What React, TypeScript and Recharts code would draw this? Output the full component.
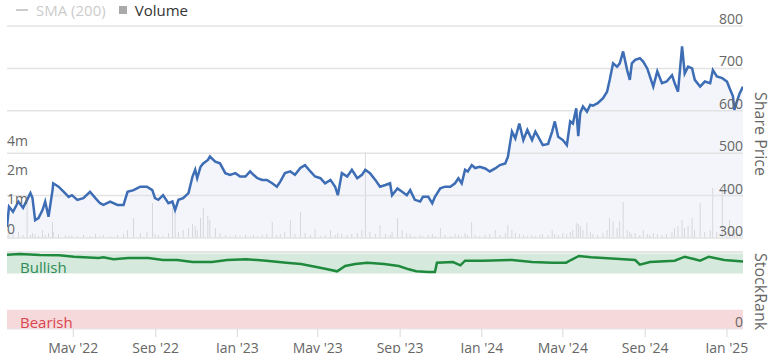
import React from 'react';
import {
  ComposedChart, Line, Area, Bar, XAxis, YAxis, ReferenceLine, ReferenceArea,
} from 'recharts';

// x values are days since 2022-01-01
const priceDays = [21,24,30,38,45,51,56,59,63,68,74,78,83,89,90,98,108,113,118,126,135,145,153,160,165,175,186,195,201,210,220,230,238,242,247,254,262,268,272,277,284,292,298,302,305,310,314,321,324,332,339,347,354,362,369,377,384,389,395,402,409,417,424,429,436,444,451,459,466,474,481,489,496,504,511,515,521,529,536,544,551,556,563,571,578,586,593,596,604,611,618,623,630,638,642,650,656,660,668,675,683,690,695,700,705,709,715,720,727,735,742,750,757,765,769,775,780,786,792,798,805,810,817,821,829,835,839,844,851,857,862,866,871,874,877,881,887,892,896,903,911,917,921,926,932,936,941,947,951,954,959,966,971,977,981,986,992,999,1006,1014,1018,1023,1029,1033,1038,1044,1048,1056,1063,1071,1075,1081,1089,1096,1100,1105,1107,1111,1115,1120];
const prices = [326,374,362,386,371,390,406,395,342,347,366,386,350,413,429,421,405,397,401,390,394,409,394,382,378,386,378,378,409,413,421,421,413,394,390,401,382,386,366,390,394,406,445,461,441,468,476,484,492,480,476,453,449,453,445,445,457,449,441,437,437,429,421,433,453,457,449,465,472,457,445,441,429,437,421,401,453,445,461,441,449,461,453,437,421,425,429,401,417,409,401,413,390,386,397,397,382,397,417,421,421,429,441,429,461,457,472,465,468,464,457,464,472,476,492,551,535,570,531,555,531,551,531,519,522,551,575,539,531,519,575,570,606,540,595,610,598,614,612,618,630,645,673,712,704,712,740,696,673,712,720,724,716,700,681,657,693,665,669,684,665,645,752,688,704,700,673,657,669,665,696,681,677,669,653,634,602,622,641,657];
// volume in millions
const volumes = [0.14,0.24,0.19,0.28,0.14,1.93,0.14,0.24,0.19,0.09,0.38,0.14,0.24,0.75,0.28,0.19,0.14,0.09,0.14,0.09,0.14,0.09,0.19,0.09,0.14,0.09,0.14,0.19,0.38,0.94,0.24,0.28,1.65,0.19,0.14,0.09,0.24,1.42,1.18,0.28,0.38,0.47,0.66,0.57,0.38,0.94,1.42,1.04,0.85,0.47,0.24,0.14,0.09,0.14,0.09,0.14,0.09,0.14,0.09,0.14,0.19,0.75,0.14,0.19,0.28,0.85,0.19,1.23,0.24,0.14,0.42,0.09,0.14,0.38,0.14,0.24,0.19,0.14,0.19,0.24,0.38,4.06,0.28,0.19,0.61,0.19,0.14,0.28,0.94,0.38,0.24,0.19,0.09,0.14,0.09,0.14,0.19,0.09,0.47,0.14,0.09,0.19,0.14,0.09,0.24,0.14,0.75,0.14,0.09,0.14,0.19,0.38,0.14,0.24,0.61,0.38,0.24,0.19,0.14,0.09,0.14,0.09,0.14,0.19,0.14,0.38,0.19,0.14,0.24,0.19,0.28,0.38,0.71,0.66,0.57,0.38,0.71,0.28,0.19,0.14,0.24,0.38,0.94,0.8,0.47,0.8,1.7,0.38,0.28,0.19,0.24,0.14,0.38,0.19,0.14,0.24,0.19,0.14,0.19,0.28,0.47,0.57,0.85,0.47,0.57,0.94,0.38,1.65,0.28,0.38,2.36,0.28,2.31,0.24,0.85,0.38,0.28,0.24,0.19,0.14];

const rankDays = [21,40,70,99,121,158,165,180,202,232,254,275,298,327,350,378,408,438,460,481,496,514,526,541,559,584,606,621,632,650,660,663,687,698,705,732,775,805,835,856,863,875,893,930,959,966,981,1018,1033,1048,1056,1069,1092,1120];
const ranks = [96.5,97.4,96.1,95.7,93.9,92.2,93.1,90.5,92.2,92.2,89.6,89.6,87,87,89.6,90.5,88.7,86.1,84.4,80.9,78.3,74.9,81.8,84.4,86.1,84.4,81.8,77.5,74.9,74,74,86.1,87,82.7,88.7,88.7,89.6,87,86.1,86.1,89.6,94.8,93.1,91.3,89.6,83.5,87,88.7,93.9,90.5,88.7,93.9,89.6,87.5];

const priceTicks = [300, 400, 500, 600, 700, 800];
const volTickLabels = ['0', '1m', '2m', '4m'];
const volTickPositions = [0, 1, 2, 3];
const xTickDays = [120, 243, 365, 485, 608, 730, 851, 974, 1096];
const xTickLabels = ["May '22", "Sep '22", "Jan '23", "May '23", "Sep '23", "Jan '24", "May '24", "Sep '24", "Jan '25"];
const bullishBand = [72, 98];
const bearishBand = [0, 25];
const xDomain = [21, 1120];

const topData = priceDays.map((d, i) => ({ day: d, price: prices[i], volume: volumes[i] }));
const rankData = rankDays.map((d, i) => ({ day: d, rank: ranks[i] }));

const FONT = "'Open Sans', sans-serif";
const PLOT_LEFT = 7;
const PLOT_RIGHT = 743;

const PriceTick = (props: any) => {
  const { y, payload } = props;
  return (
    <text x={PLOT_RIGHT} y={y - 7.5} textAnchor="end" dominantBaseline="central" fill="#666" fontSize={14} fontFamily={FONT}>
      {payload.value}
    </text>
  );
};

const VolTick = (props: any) => {
  const { y, payload } = props;
  return (
    <text x={PLOT_LEFT} y={y - 10} textAnchor="start" dominantBaseline="central" fill="#666" fontSize={14} fontFamily={FONT}>
      {volTickLabels[Math.round(payload.value)]}
    </text>
  );
};

const XTick = (props: any) => {
  const { x, y, payload } = props;
  const idx = xTickDays.indexOf(payload.value);
  return (
    <text x={x} y={y + 8} textAnchor="middle" dominantBaseline="central" fill="#666" fontSize={14} fontFamily={FONT}>
      {idx >= 0 ? xTickLabels[idx] : ''}
    </text>
  );
};

const bandLabel = (text: string, color: string) => (props: any) => {
  const vb = props.viewBox || {};
  return (
    <text x={(vb.x || 0) + 13} y={(vb.y || 0) + (vb.height || 0) / 2 + 3} textAnchor="start" dominantBaseline="central" fill={color} fontSize={15} fontFamily={FONT}>
      {text}
    </text>
  );
};

export default function App() {
  return (
    <div style={{ position: 'absolute', left: 0, top: 0, width: 772, height: 353, background: '#fff', fontFamily: FONT, overflow: 'hidden' }}>
      <div style={{ position: 'absolute', left: 16, top: 0, height: 20, display: 'flex', alignItems: 'center', fontSize: 15, whiteSpace: 'nowrap' }}>
        <span style={{ display: 'inline-block', width: 12, height: 2, background: '#ccc', marginRight: 8 }} />
        <span style={{ color: '#ccc' }}>SMA (200)</span>
        <span style={{ display: 'inline-block', width: 8, height: 8, background: '#aaa', marginLeft: 13, marginRight: 8 }} />
        <span style={{ color: '#333' }}>Volume</span>
      </div>

      <div style={{ position: 'absolute', left: 0, top: 0 }}>
        <ComposedChart width={772} height={245} data={topData} margin={{ top: 26, right: 28, bottom: 7, left: 6 }}>
          <XAxis dataKey="day" type="number" domain={xDomain} hide allowDataOverflow />
          <YAxis yAxisId="price" orientation="right" width={1} domain={[300, 800]} ticks={priceTicks} axisLine={false} tickLine={false} tick={<PriceTick />} interval={0} allowDataOverflow />
          <YAxis yAxisId="vol" hide domain={[0, 10]} allowDataOverflow />
          <YAxis yAxisId="volLabel" type="number" orientation="left" width={1} domain={[0, 7.3]} ticks={volTickPositions} axisLine={false} tickLine={false} tick={<VolTick />} interval={0} allowDataOverflow />
          <Area yAxisId="price" dataKey="price" type="linear" fill="#f3f5fb" fillOpacity={1} stroke="none" isAnimationActive={false} />
          {priceTicks.map((t) => (
            <ReferenceLine key={t} yAxisId="price" y={t} stroke="#e3e3e3" strokeWidth={1.5} />
          ))}
          <ReferenceLine yAxisId="volLabel" y={0} stroke="none" />
          <Bar yAxisId="vol" dataKey="volume" fill="#c4c4c4" barSize={1} isAnimationActive={false} />
          <Line yAxisId="price" dataKey="price" type="linear" stroke="#3d6db5" strokeWidth={2.5} dot={false} isAnimationActive={false} />
        </ComposedChart>
      </div>

      <div style={{ position: 'absolute', left: 0, top: 240 }}>
        <ComposedChart width={772} height={113} data={rankData} margin={{ top: 12, right: 28, bottom: 0, left: 7 }}>
          <XAxis dataKey="day" type="number" domain={xDomain} ticks={xTickDays} interval={0} height={24} tickSize={8} tickLine={{ stroke: '#d8d8d8' }} axisLine={{ stroke: '#e6e6e6' }} tick={<XTick />} allowDataOverflow />
          <YAxis yAxisId="rank" orientation="right" width={1} domain={[0, 100]} ticks={[0]} axisLine={false} tickLine={false} tick={<PriceTick />} interval={0} />
          <ReferenceArea yAxisId="rank" y1={bullishBand[0]} y2={bullishBand[1]} fill="#d5eadc" fillOpacity={1} stroke="none"
            label={bandLabel('Bullish', '#2e8b57')} />
          <ReferenceArea yAxisId="rank" y1={bearishBand[0]} y2={bearishBand[1]} fill="#f6d9da" fillOpacity={1} stroke="none"
            label={bandLabel('Bearish', '#d9454f')} />
          <ReferenceLine yAxisId="rank" y={100} stroke="#dddddd" strokeWidth={1.5} />
          <Line yAxisId="rank" dataKey="rank" type="linear" stroke="#1f8a3d" strokeWidth={2.5} dot={false} isAnimationActive={false} />
        </ComposedChart>
      </div>

      <div style={{ position: 'absolute', left: 750, top: 92, writingMode: 'vertical-rl', fontSize: 16, color: '#666', whiteSpace: 'nowrap' }}>Share Price</div>
      <div style={{ position: 'absolute', left: 750, top: 253, writingMode: 'vertical-rl', fontSize: 16, color: '#666', whiteSpace: 'nowrap' }}>StockRank</div>
    </div>
  );
}
